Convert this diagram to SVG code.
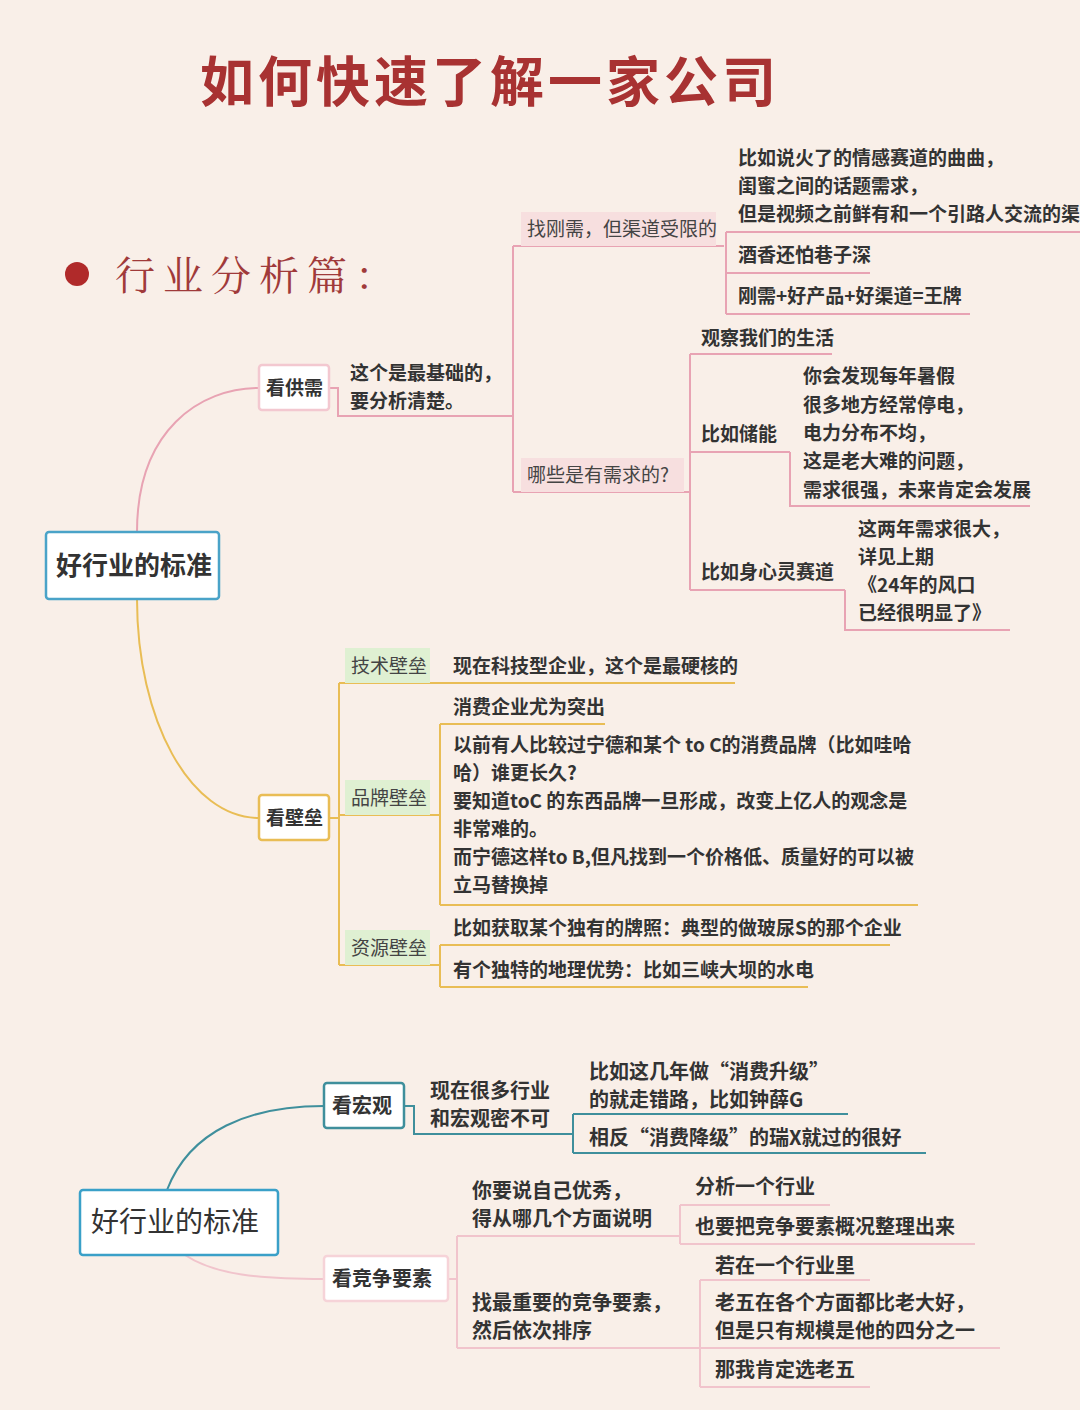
<svg xmlns="http://www.w3.org/2000/svg" width="1080" height="1410" viewBox="0 0 1080 1410">
<style>
text{font-family:"Noto Sans CJK SC","Liberation Sans",sans-serif;fill:#333;font-size:19px;font-weight:bold}
.b text{font-size:20px}
.lbl{font-weight:normal;fill:#444}
.p{stroke:#e8a3b3;stroke-width:2;fill:none}
.g{stroke:#e9bd55;stroke-width:2;fill:none}
.t{stroke:#3f8f9c;stroke-width:2;fill:none}
.lp{stroke:#f1c4cc;stroke-width:2;fill:none}
.box{fill:#fff;stroke-width:2.5}
</style>
<rect width="1080" height="1410" fill="#f9efe8"/>
<text x="200" y="102" style="font-size:54px;fill:#a83232;letter-spacing:4px">如何快速了解一家公司</text>
<circle cx="77" cy="274" r="12" fill="#b02a2a"/>
<text x="115" y="290" style="font-size:40px;fill:#a03a3a;font-weight:normal;letter-spacing:8px;font-family:'Noto Serif CJK SC','Noto Sans CJK SC',serif">行业分析篇：</text>
<g id="connectors">
<path class="p" d="M137 532 C137 430 200 388 259 388"/>
<path class="g" d="M137 599 C137 720 190 818 259 818"/>
<path class="p" d="M329 388 H338 V416 H513 M513 246 V492 M513 246 H724 M513 492 H690"/>
<path class="p" d="M726 232 V314 M726 232 H1080 M726 273 H870 M726 314 H970"/>
<path class="p" d="M690 354 V590 M690 354 H832 M690 452 H790 M790 452 V506 H1030 M690 590 H845 M845 590 V630 H1010"/>
<path class="g" d="M329 818 H339 M339 683 V965 M339 683 H735 M339 815 H440 M440 724 V905 M440 724 H605 M440 905 H918 M339 965 H440 M440 945 V987 M440 945 H890 M440 987 H808"/>
<path class="t" d="M167 1190 C190 1130 250 1106 324 1106"/>
<path class="t" d="M404 1106 H414 V1134 H573 M573 1114 V1153 M573 1114 H848 M573 1153 H926"/>
<path class="lp" d="M185 1255 C215 1275 260 1279 324 1279"/>
<path class="lp" d="M448 1279 H457 M457 1236 V1348 M457 1236 H680 M680 1205 V1244 M680 1205 H830 M680 1244 H975 M457 1348 H700 M700 1280 V1387 M700 1280 H870 M700 1348 H1000 M700 1387 H870"/>
</g>
<g id="root1"><rect class="box" x="46" y="532" width="173" height="67" rx="3" stroke="#4aa3c8"/><text x="56" y="575" style="font-size:26px">好行业的标准</text></g>
<g id="n-gongxu"><rect class="box" x="259" y="365" width="70" height="45" rx="3" stroke="#f3c8d0"/><text x="266" y="395">看供需</text></g>
<g id="n-gongxu-t"><text x="350" y="380">这个是最基础的，</text><text x="350" y="408">要分析清楚。</text></g>
<g id="n-gangxu"><rect x="521" y="212" width="195" height="34" fill="#f7dfdf"/><text class="lbl" x="527" y="236">找刚需，但渠道受限的</text></g>
<g id="n-gangxu-1"><text x="738" y="165">比如说火了的情感赛道的曲曲，</text><text x="738" y="193">闺蜜之间的话题需求，</text><text x="738" y="221">但是视频之前鲜有和一个引路人交流的渠道</text></g>
<g id="n-gangxu-2"><text x="738" y="262">酒香还怕巷子深</text></g>
<g id="n-gangxu-3"><text x="738" y="303">刚需+好产品+好渠道=王牌</text></g>
<g id="n-xuqiu"><rect x="521" y="458" width="163" height="34" fill="#f7dfdf"/><text class="lbl" x="527" y="482">哪些是有需求的?</text></g>
<g id="n-guancha"><text x="701" y="345">观察我们的生活</text></g>
<g id="n-chuneng"><text x="701" y="441">比如储能</text></g>
<g id="n-chuneng-t"><text x="803" y="383">你会发现每年暑假</text><text x="803" y="412">很多地方经常停电，</text><text x="803" y="440">电力分布不均，</text><text x="803" y="468">这是老大难的问题，</text><text x="803" y="497">需求很强，未来肯定会发展</text></g>
<g id="n-shenxin"><text x="701" y="579">比如身心灵赛道</text></g>
<g id="n-shenxin-t"><text x="858" y="536">这两年需求很大，</text><text x="858" y="564">详见上期</text><text x="858" y="592">《24年的风口</text><text x="858" y="620">已经很明显了》</text></g>
<g id="n-bilei"><rect class="box" x="259" y="795" width="70" height="45" rx="3" stroke="#e9bd55"/><text x="266" y="825">看壁垒</text></g>
<g id="n-jishu"><rect x="345" y="648" width="85" height="35" fill="#dff0d2"/><text class="lbl" x="351" y="673">技术壁垒</text><text x="453" y="673">现在科技型企业，这个是最硬核的</text></g>
<g id="n-pinpai"><rect x="345" y="780" width="85" height="35" fill="#dff0d2"/><text class="lbl" x="351" y="805">品牌壁垒</text></g>
<g id="n-pinpai-1"><text x="453" y="714">消费企业尤为突出</text></g>
<g id="n-pinpai-2"><text x="453" y="752">以前有人比较过宁德和某个 to C的消费品牌（比如哇哈</text><text x="453" y="780">哈）谁更长久?</text><text x="453" y="808">要知道toC 的东西品牌一旦形成，改变上亿人的观念是</text><text x="453" y="836">非常难的。</text><text x="453" y="864">而宁德这样to B,但凡找到一个价格低、质量好的可以被</text><text x="453" y="892">立马替换掉</text></g>
<g id="n-ziyuan"><rect x="345" y="930" width="85" height="35" fill="#dff0d2"/><text class="lbl" x="351" y="955">资源壁垒</text></g>
<g id="n-ziyuan-1"><text x="453" y="935">比如获取某个独有的牌照：典型的做玻尿S的那个企业</text></g>
<g id="n-ziyuan-2"><text x="453" y="977">有个独特的地理优势：比如三峡大坝的水电</text></g>
<g id="root2"><rect class="box" x="80" y="1190" width="198" height="65" rx="3" stroke="#3aa0c8" stroke-width="3"/><text x="91" y="1232" style="font-size:28px;font-weight:normal">好行业的标准</text></g>
<g class="b">
<g id="n-hongguan"><rect class="box" x="324" y="1083" width="80" height="45" rx="3" stroke="#3f8f9c"/><text x="332" y="1113">看宏观</text></g>
<g id="n-hongguan-t"><text x="430" y="1098">现在很多行业</text><text x="430" y="1126">和宏观密不可</text></g>
<g id="n-hg-1"><text x="589" y="1079">比如这几年做“消费升级”</text><text x="589" y="1107">的就走错路，比如钟薛G</text></g>
<g id="n-hg-2"><text x="589" y="1145">相反“消费降级”的瑞X就过的很好</text></g>
<g id="n-jingzheng"><rect class="box" x="324" y="1256" width="124" height="45" rx="3" stroke="#f6d3d8"/><text x="332" y="1286">看竞争要素</text></g>
<g id="n-jz-1"><text x="472" y="1198">你要说自己优秀，</text><text x="472" y="1226">得从哪几个方面说明</text></g>
<g id="n-jz-1a"><text x="695" y="1194">分析一个行业</text></g>
<g id="n-jz-1b"><text x="695" y="1234">也要把竞争要素概况整理出来</text></g>
<g id="n-jz-2"><text x="472" y="1310">找最重要的竞争要素，</text><text x="472" y="1338">然后依次排序</text></g>
<g id="n-jz-2a"><text x="715" y="1273">若在一个行业里</text></g>
<g id="n-jz-2b"><text x="715" y="1310">老五在各个方面都比老大好，</text><text x="715" y="1338">但是只有规模是他的四分之一</text></g>
<g id="n-jz-2c"><text x="715" y="1377">那我肯定选老五</text></g>
</g>
</svg>
